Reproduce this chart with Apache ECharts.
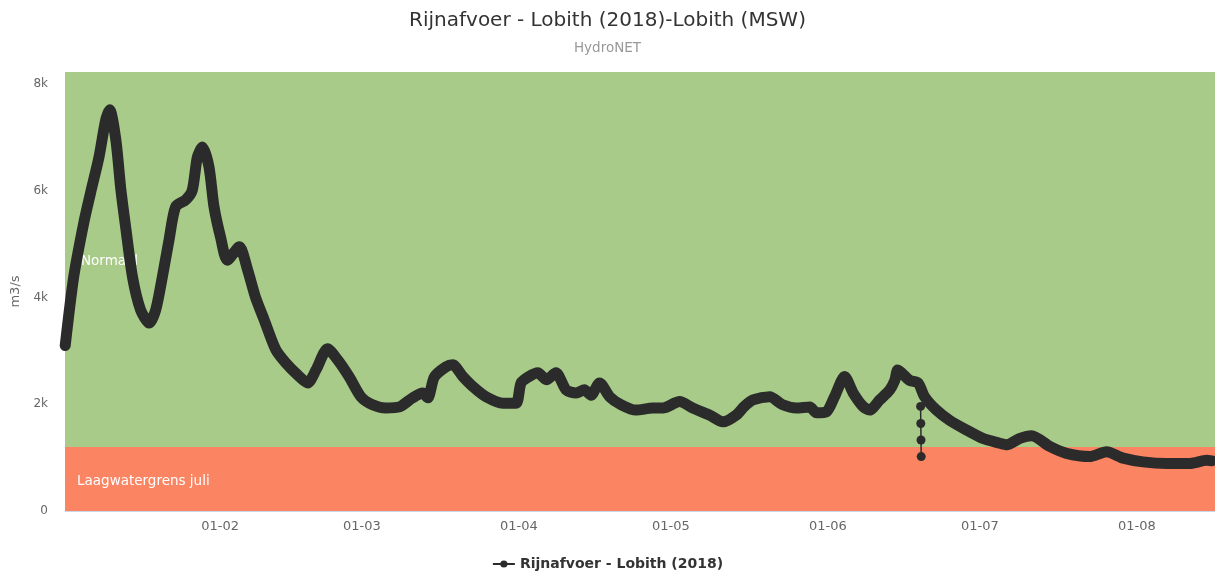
<!DOCTYPE html>
<html>
<head>
<meta charset="utf-8">
<title>Rijnafvoer - Lobith</title>
<script src="https://cdn.jsdelivr.net/npm/echarts@6/dist/echarts.min.js"></script>
<style>
  html, body { margin: 0; padding: 0; background: #fff; }
  #chart { width: 1215px; height: 578px; }
</style>
</head>
<body>
<div id="chart"></div>
<script>
// afvoer Lobith 2018 (m3/s)
const times = [
  '2018-01-01 10:00', '2018-01-03 02:00', '2018-01-05 02:00', '2018-01-06 10:00', '2018-01-08 02:00',
  '2018-01-09 10:00', '2018-01-10 05:00', '2018-01-11 10:00', '2018-01-12 10:00', '2018-01-13 10:00',
  '2018-01-14 17:00', '2018-01-16 07:00', '2018-01-18 00:00', '2018-01-19 07:00', '2018-01-20 14:00',
  '2018-01-21 22:00', '2018-01-23 05:00', '2018-01-25 05:00', '2018-01-26 12:00', '2018-01-27 12:00',
  '2018-01-28 12:00', '2018-01-29 19:00', '2018-01-30 19:00', '2018-02-01 02:00', '2018-02-02 10:00',
  '2018-02-04 19:00', '2018-02-06 10:00', '2018-02-08 00:00', '2018-02-09 17:00', '2018-02-12 00:00',
  '2018-02-14 00:00', '2018-02-16 07:00', '2018-02-18 07:00', '2018-02-19 22:00', '2018-02-22 05:00',
  '2018-02-24 05:00', '2018-02-26 12:00', '2018-02-28 19:00', '2018-03-03 02:00', '2018-03-05 17:00',
  '2018-03-08 10:00', '2018-03-11 00:00', '2018-03-13 00:00', '2018-03-14 00:00', '2018-03-15 07:00',
  '2018-03-17 14:00', '2018-03-18 22:00', '2018-03-20 22:00', '2018-03-22 22:00', '2018-03-25 12:00',
  '2018-03-28 19:00', '2018-03-31 10:00', '2018-04-01 10:00', '2018-04-03 00:00', '2018-04-04 17:00',
  '2018-04-06 10:00', '2018-04-08 07:00', '2018-04-10 07:00', '2018-04-12 07:00', '2018-04-13 22:00',
  '2018-04-15 05:00', '2018-04-16 22:00', '2018-04-18 22:00', '2018-04-21 05:00', '2018-04-24 02:00',
  '2018-04-27 10:00', '2018-04-29 10:00', '2018-05-02 17:00', '2018-05-05 07:00', '2018-05-08 14:00',
  '2018-05-11 07:00', '2018-05-13 22:00', '2018-05-15 12:00', '2018-05-17 05:00', '2018-05-20 12:00',
  '2018-05-23 02:00', '2018-05-25 19:00', '2018-05-28 10:00', '2018-05-29 17:00', '2018-05-31 17:00',
  '2018-06-02 07:00', '2018-06-04 07:00', '2018-06-06 00:00', '2018-06-07 22:00', '2018-06-09 05:00',
  '2018-06-11 05:00', '2018-06-13 05:00', '2018-06-14 05:00', '2018-06-14 19:00', '2018-06-17 02:00',
  '2018-06-18 19:00', '2018-06-20 02:00', '2018-06-22 10:00', '2018-06-25 00:00', '2018-06-28 07:00',
  '2018-07-01 14:00', '2018-07-04 22:00', '2018-07-06 07:00', '2018-07-08 22:00', '2018-07-11 05:00',
  '2018-07-14 19:00', '2018-07-18 02:00', '2018-07-22 17:00', '2018-07-26 00:00', '2018-07-29 07:00',
  '2018-08-02 05:00', '2018-08-06 22:00', '2018-08-11 12:00', '2018-08-14 19:00', '2018-08-15 19:00'
]
const values = [
  3100, 4380, 5400, 5960, 6630,
  7330, 7520, 6950, 6010, 5270,
  4380, 3770, 3520, 3770, 4380,
  5080, 5700, 5830, 6010, 6630,
  6820, 6450, 5700, 5130, 4700,
  4950, 4520, 4000, 3580, 3020,
  2770, 2550, 2400, 2640, 3040,
  2830, 2510, 2140, 1990, 1930,
  1950, 2120, 2210, 2120, 2510,
  2700, 2740, 2520, 2330, 2140,
  2020, 2020, 2400, 2520, 2590,
  2460, 2590, 2270, 2210, 2270,
  2170, 2400, 2140, 1990, 1890,
  1930, 1930, 2050, 1930, 1800,
  1670, 1800, 1960, 2080, 2140,
  1990, 1930, 1950, 1840, 1860,
  2140, 2520, 2210, 1960, 1890,
  2080, 2270, 2450, 2640, 2450,
  2400, 2140, 1890, 1700, 1520,
  1360, 1270, 1240, 1360, 1410,
  1210, 1080, 1020, 1110, 990,
  920, 890, 890, 950, 940
]

// losse meetpunten rond 19 juni
const spikeTimes = ['2018-06-19 07:00', '2018-06-19 08:00', '2018-06-19 09:00', '2018-06-19 10:00']
const spikeValues = [1960, 1640, 1330, 1020]

// achtergrondzones
const lowLimit = 1200
const yMax = 8225
const zoneNames = ['Laagwatergrens juli', 'Normaal']

const seriesName = 'Rijnafvoer - Lobith (2018)'

function pad(n) {
    return n < 10 ? '0' + n : '' + n
}

let chart = echarts.init(document.getElementById('chart'))

let mainData = times.map((t, i) => [t, values[i]])
let spikeData = spikeTimes.map((t, i) => [t, spikeValues[i]])

option = {
    animation: false,
    textStyle: { fontFamily: 'DejaVu Sans' },
    title: {
        text: 'Rijnafvoer - Lobith (2018)-Lobith (MSW)',
        subtext: 'HydroNET',
        left: 'center',
        top: 6,
        itemGap: 10,
        textStyle: { fontSize: 20, fontWeight: 'normal', color: '#333' },
        subtextStyle: { fontSize: 13.5, color: '#999' }
    },
    legend: {
        bottom: 2,
        data: [seriesName],
        itemWidth: 22,
        itemHeight: 9,
        lineStyle: { width: 2 },
        textStyle: { fontSize: 14, fontWeight: 'bold', color: '#333' }
    },
    grid: { left: 65, right: 0, top: 72, bottom: 67 },
    xAxis: {
        type: 'time',
        min: '2018-01-01 09:00',
        max: '2018-08-16 10:00',
        minInterval: 28 * 86400000,
        maxInterval: 31 * 86400000,
        axisLine: { lineStyle: { color: '#ccd6eb' } },
        axisTick: { show: false },
        splitLine: { show: false },
        axisLabel: {
            color: '#666',
            fontSize: 13,
            margin: 9,
            formatter: function (v) {
                let d = new Date(v)
                return pad(d.getDate()) + '-' + pad(d.getMonth() + 1)
            }
        }
    },
    yAxis: {
        type: 'value',
        min: 0,
        max: yMax,
        interval: 2000,
        name: 'm3/s',
        nameLocation: 'middle',
        nameGap: 42,
        nameTextStyle: { color: '#666', fontSize: 13 },
        axisLine: { show: false },
        axisTick: { show: false },
        splitLine: { lineStyle: { color: '#e6e6e6', width: 1 } },
        axisLabel: {
            color: '#666',
            fontSize: 12,
            margin: 17,
            showMaxLabel: false,
            formatter: v => v === 0 ? '0' : (v / 1000) + 'k'
        }
    },
    series: [
        {
            name: 'zones',
            type: 'line',
            data: [],
            z: 1,
            silent: true,
            markArea: {
                silent: true,
                label: { position: 'insideLeft', color: '#fff', fontSize: 13.5 },
                data: [
                    [{ name: zoneNames[0], yAxis: 0, itemStyle: { color: '#fb8462' }, label: { distance: 12, offset: [0, 3] } },
                     { yAxis: lowLimit }],
                    [{ name: zoneNames[1], yAxis: lowLimit, itemStyle: { color: '#a9cb89' }, label: { distance: 16, offset: [0, 2] } },
                     { yAxis: yMax }]
                ]
            }
        },
        {
            name: seriesName,
            type: 'line',
            data: spikeData,
            z: 2,
            symbol: 'circle',
            symbolSize: 9,
            showSymbol: true,
            itemStyle: { color: '#2b2b2b' },
            lineStyle: { color: '#2b2b2b', width: 1.5 }
        },
        {
            name: seriesName,
            type: 'line',
            data: mainData,
            z: 3,
            symbol: 'circle',
            symbolSize: 9,
            showSymbol: false,
            smooth: 0.25,
            itemStyle: { color: '#2b2b2b' },
            lineStyle: { color: '#2b2b2b', width: 11, cap: 'round', join: 'round' }
        }
    ]
}
chart.setOption(option)
</script>
</body>
</html>
